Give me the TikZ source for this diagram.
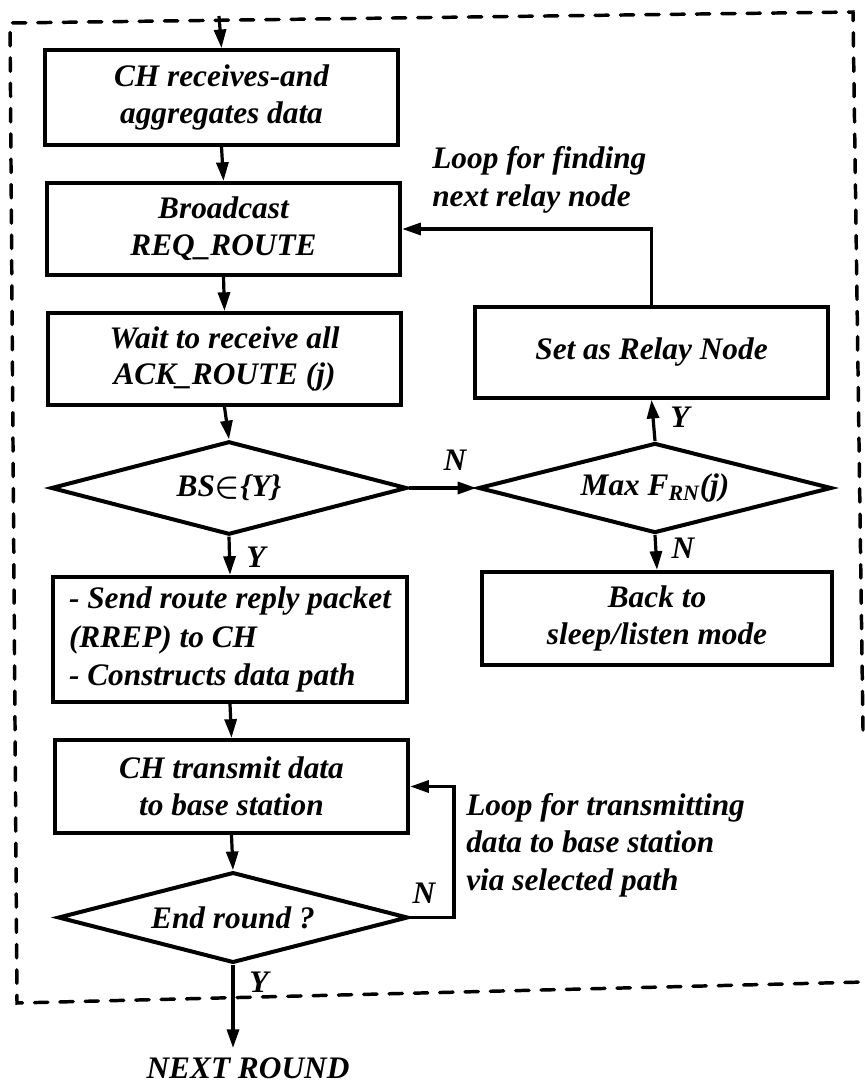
\documentclass[tikz,border=0pt]{standalone}
\usepackage{fontspec}
\setmainfont{Liberation Serif}
\usetikzlibrary{shapes.geometric,arrows.meta}
\newcommand\flowfont{\fontsize{23.5}{27.5}\selectfont\bfseries\itshape}
\begin{document}
\begin{tikzpicture}[x=0.75pt,y=-0.75pt,
  box/.style={draw, line width=3pt, minimum width=265pt, minimum height=69pt,
              align=center, inner sep=2pt, font=\flowfont},
  dec/.style={draw, diamond, aspect=3.8, line width=3pt, inner sep=0pt,
              minimum width=265pt, minimum height=68pt, font=\flowfont},
  flow/.style={line width=2.4pt, -{Triangle[length=14pt,width=9pt]}},
  lab/.style={font=\flowfont, inner sep=0pt},
  note/.style={font=\fontsize{23.5}{28}\selectfont\bfseries\itshape, align=left, inner sep=0pt, anchor=west},
  frame/.style={line width=2.6pt, dash pattern=on 10pt off 9pt, line cap=round}]
\useasboundingbox (0,0) rectangle (864,1087);

% dashed enclosure of one round
\draw[frame] (863,730) -- (853,12) -- (10,23) -- (17,1003) -- (864,982);

% process boxes
\node[box, minimum height=71pt] (recv) at (221.5,97.5) {CH receives-and\\aggregates data};
\node[box] (bcast) at (223.5,229) {Broadcast\\REQ\_ROUTE};
\node[box] (wait) at (224.5,359) {Wait to receive all\\ACK\_ROUTE (j)};
\node[dec, minimum width=267pt, minimum height=70pt] (bs) at (229,488) {BS\mbox{\boldmath$\in$}\{Y\}};
\node[dec, minimum height=67.5pt] (max) at (655,488) {Max F\textsubscript{RN}(j)};
\node[box, minimum height=68pt] (relay) at (651.5,352.5) {Set as Relay Node};
\node[box, minimum width=262.5pt, minimum height=70pt] (sleep) at (657,618.5) {Back to\\sleep/listen mode};
\node[box, minimum height=94pt, align=left,
      font=\fontsize{23.5}{29}\selectfont\bfseries\itshape] (rrep) at (230,639.5)
  {- Send route reply packet\\(RREP) to CH\\- Constructs data path};
\node[box, minimum height=70pt] (tx) at (231.5,786.5) {CH transmit data\\to base station};
\node[dec, minimum width=262.5pt, minimum height=68pt] (end) at (233,917.5) {End round ?};

\coordinate (entry) at (219,16);
\coordinate (exit) at (233,1048);

% main flow
\draw[flow] (entry) -- (recv.north);
\draw[flow] (recv.south) -- (bcast.north);
\draw[flow] (bcast.south) -- (wait.north);
\draw[flow] (wait.south) -- (bs.north);
\draw[flow] (bs.east) -- (max.west);
\draw[flow] (max.north) -- (relay.south);
\draw[flow] (max.south) -- (sleep.north);
\draw[flow] (relay.north) |- (bcast.east);
\draw[flow] (bs.south) -- (rrep.north);
\draw[flow] (rrep.south) -- (tx.north);
\draw[flow] (tx.south) -- (end.north);
\draw[flow] (end.east) -- ++(44,0) |- (tx.east);
\draw[flow] (end.south) -- (exit);

% branch labels
\node[lab] (n1) at (455,460) {N};
\node[lab] (y1) at (680,417) {Y};
\node[lab] (n2) at (683,548) {N};
\node[lab] (y2) at (256,557) {Y};
\node[lab] (n3) at (424,893) {N};
\node[lab] (y3) at (259,982) {Y};

% loop notes
\node[note] (loop1) at (432,180) {Loop for finding\\next relay node};
\node[note] (loop2) at (466,845) {Loop for transmitting\\data to base station\\via selected path};

\node[lab] (next) at (248,1068) {NEXT ROUND};
\end{tikzpicture}
\end{document}
